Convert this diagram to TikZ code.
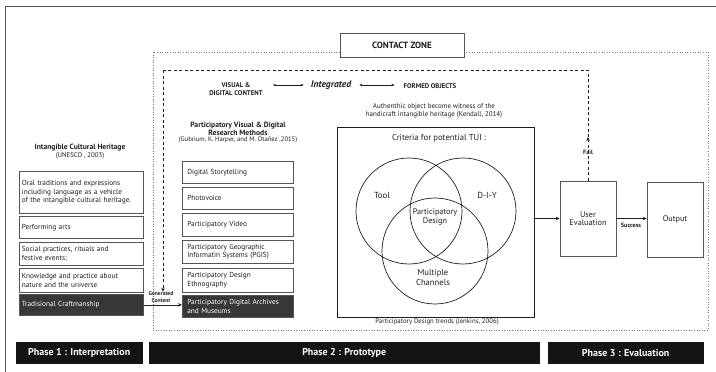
\documentclass[tikz,border=0pt]{standalone}
\usepackage{fontspec}
\setmainfont{PT Sans}
\usetikzlibrary{arrows.meta}
\definecolor{ln}{HTML}{555555}
\definecolor{tx}{HTML}{1E1E1E}
\definecolor{dk}{HTML}{383838}
\definecolor{bar}{HTML}{141414}
\newcommand{\fsz}[1]{\fontsize{#1}{#1}\selectfont}
\tikzset{
  every node/.style={text=tx, font=\fsz{7.3}, inner sep=0pt},
  box/.style={draw=ln, line width=0.7pt, fill=white, anchor=north west, align=left, font=\fontsize{7.3}{8.6}\selectfont},
  lbox/.style={box, minimum width=124pt, text width=119pt, inner xsep=2.5pt},
  mbox/.style={box, minimum width=111pt, text width=101pt, inner xsep=5pt},
  darkbox/.style={fill=dk, text=white},
  plain/.style={draw=ln, line width=0.7pt, fill=white, align=center},
  phasebar/.style={fill=bar, draw=bar, anchor=north west, text=white, font=\fsz{10}\bfseries, minimum height=21pt},
  venn/.style={circle, draw=tx, line width=0.7pt, minimum size=106pt},
  arr/.style={draw=tx, line width=0.7pt, -{Stealth[length=4pt,width=3.5pt]}},
  harr/.style={draw=tx, line width=0.6pt, {Stealth[length=3pt,width=2.5pt]}-{Stealth[length=3pt,width=2.5pt]}},
  dsh/.style={draw=tx, line width=0.7pt, dash pattern=on 3pt off 2.5pt},
}
\begin{document}
\begin{tikzpicture}[x=1pt,y=-1pt]
\useasboundingbox (0,0) rectangle (716,372);
% outer frame
\draw[ln, line width=0.8pt] (5,372) -- (5,6) -- (716,6);
% contact zone dotted frame
\draw[ln!80, line width=0.6pt, dotted] (153,52) rectangle (708,330);
\node[plain, minimum width=124pt, minimum height=24pt, font=\fsz{9}\bfseries] (cz) at (402,45) {CONTACT ZONE};

% header
\node[font=\fontsize{6.8}{7.6}\selectfont\bfseries, align=center] (vis) at (236,89) {VISUAL \&\\DIGITAL CONTENT};
\node[font=\fsz{9.5}\bfseries\itshape] (integ) at (331,85) {Integrated};
\node[font=\fsz{6.8}\bfseries] (formed) at (430,86) {FORMED OBJECTS};
\coordinate (ha) at (273,85);
\draw[harr, shorten >=7pt] (ha) -- (ha -| integ.west);
\draw[harr, shorten <=8pt, shorten >=9pt] (integ.east) -- (integ.east -| formed.west);

\node[align=center, font=\fontsize{7}{8}\selectfont] (auth) at (434,111) {Authenthic object become witness of the\\handicraft intangible heritage (Kendall, 2014)};

% left column
\node[font=\fsz{7.6}\bfseries] (icht) at (80,148) {Intangible Cultural Heritage};
\node[font=\fsz{6.8}] (ichs) at (80,156) {(UNESCO , 2003)};
\node[lbox, minimum height=42pt] (i1) at (19,171) {Oral traditions and expressions\\including language as a vehicle\\of the intangible cultural heritage.};
\node[lbox, minimum height=22pt] (i2) at (19,216) {Performing arts};
\node[lbox, minimum height=23pt] (i3) at (19,242) {Social practices, rituals and\\festive events;};
\node[lbox, minimum height=24pt] (i4) at (19,268) {Knowledge and practice about\\nature and the universe};
\node[lbox, darkbox, minimum height=21pt] (i5) at (19,294) {Tradisional Craftmanship};

% middle column
\node[font=\fontsize{7.6}{8.4}\selectfont\bfseries, align=center] (pvt) at (238,129) {Participatory Visual \& Digital\\Research Methods};
\node[font=\fsz{6.6}] (pvs) at (238,140) {(Gubrium, K. Harper, and M. Otañez ,2015)};
\node[mbox, minimum height=22pt] (m1) at (182,161) {Digital Storytelling};
\node[mbox, minimum height=22pt] (m2) at (182,187) {Photovoice};
\node[mbox, minimum height=23pt] (m3) at (182,213) {Participatory Video};
\node[mbox, minimum height=23pt] (m4) at (182,240) {Participatory Geographic\\Informatin Systems (PGIS)};
\node[mbox, minimum height=24pt] (m5) at (182,268) {Participatory Design\\Ethnography};
\node[mbox, darkbox, minimum height=22pt] (m6) at (182,295) {Participatory Digital Archives\\and Museums};

\node[font=\fontsize{5.6}{6.2}\selectfont\bfseries, align=center] (gc) at (161,297) {Generated\\Content};

% TUI box
\node[draw=tx, line width=0.7pt, minimum width=197pt, minimum height=190pt, anchor=north west] (tui) at (337,127) {};
\node[font=\fsz{8.6}] (crit) at (439,138) {Criteria for potential TUI :};
\node[venn] (ctool) at (409,211) {};
\node[venn] (cdiy) at (463,211) {};
\node[venn] (cmc) at (435,251) {};
\node[font=\fsz{8.8}] (ltool) at (382,195) {Tool};
\node[font=\fsz{8.8}] (ldiy) at (487,195) {D-I-Y};
\node[font=\fontsize{8.2}{9}\selectfont, align=center] (lpd) at (435,217) {Participatory\\Design};
\node[font=\fontsize{8.6}{10}\selectfont, align=center] (lmc) at (433,278) {Multiple\\Channels};
\node[font=\fsz{6.8}] (jenk) at (437,322) {Participatory Design trends (Jenkins, 2006)};

% evaluation
\node[draw=ln, line width=0.7pt, minimum width=56pt, minimum height=75pt, align=center, font=\fontsize{8.2}{8.6}\selectfont] (ue) at (588,218.5) {User\\Evaluation};
\node[draw=ln, line width=0.7pt, minimum width=56pt, minimum height=75pt, font=\fsz{8.2}] (out) at (675,219.5) {Output};
\node[font=\fsz{6.2}\bfseries] (succ) at (631,225) {Success};
\node[font=\fsz{6.2}\bfseries] (fail) at (588,152) {Fail};

% connectors
\draw[arr] (tui.east |- ue.west) -- (ue.west);
\draw[arr] (ue.east) -- (out.west |- ue.east);
\draw[arr] (i5.east) -- (i5.east -| m6.west);
\coordinate (tr) at (588,70);
\coordinate (tl) at (163,70);
\draw[dsh, -{Stealth[length=4pt,width=3.5pt]}] (ue.north) -- (588,137);
\draw[dsh] (588,137) -- (tr) -- (tl);
\draw[dsh, -{Stealth[length=4pt,width=3.5pt]}] (tl) -- (tl |- gc.north);

% phases
\node[phasebar, minimum width=126pt] (p1) at (16,342) {Phase 1 : Interpretation};
\node[phasebar, minimum width=390pt] (p2) at (149,342) {Phase 2 : Prototype};
\node[phasebar, minimum width=155pt] (p3) at (548,342) {Phase 3 : Evaluation};
\end{tikzpicture}
\end{document}
